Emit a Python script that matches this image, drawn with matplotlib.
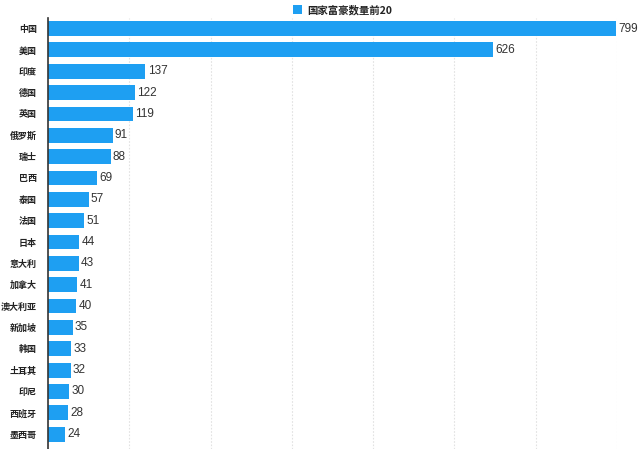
import matplotlib
matplotlib.use('Agg')
import matplotlib.pyplot as plt
import numpy as np

# data
countries = ['中国', '美国', '印度', '德国', '英国', '俄罗斯', '瑞士', '巴西', '泰国', '法国',
             '日本', '意大利', '加拿大', '澳大利亚', '新加坡', '韩国', '土耳其', '印尼', '西班牙', '墨西哥']
counts = [799, 626, 137, 122, 119, 91, 88, 69, 57, 51,
          44, 43, 41, 40, 35, 33, 32, 30, 28, 24]
series_name = '国家富豪数量前20'

plt.rcParams['font.family'] = ['Noto Sans CJK SC', 'DejaVu Sans']

bar_color = '#1E9FF2'

fig = plt.figure(figsize=(6.4, 4.49), dpi=100)
ax = fig.add_axes([0.075, 0.0, 0.889, 0.960])

y = np.arange(len(countries))
bars = ax.barh(y, counts, height=0.7, color=bar_color, label=series_name, zorder=3)

# value labels at the end of each bar
for yi, v in zip(y, counts):
    ax.text(v + 3, yi, str(v), va='center', ha='left', fontsize=8.5,
            color='#333333', family=['Liberation Sans', 'DejaVu Sans'])

ax.set_yticks(y)
ax.set_yticklabels(countries, fontsize=6.5, fontweight='bold', color='#222222')
ax.tick_params(axis='y', length=0, pad=8)

ax.set_xlim(0, 800)
ax.set_ylim(19.7, -0.5)
ax.set_xticks(np.linspace(0, 800, 8))
ax.tick_params(axis='x', length=0, labelbottom=False)
ax.grid(axis='x', ls=(0, (1.5, 1.5)), color='#e2e2e2', lw=0.8, zorder=0)

for s in ['top', 'right', 'bottom']:
    ax.spines[s].set_visible(False)
ax.spines['left'].set_color('#333333')
ax.spines['left'].set_linewidth(1.2)
ax.spines['left'].set_zorder(4)

leg = fig.legend(loc='upper center', bbox_to_anchor=(0.535, 1.01), frameon=False,
                 fontsize=7.5, handlelength=0.9, handleheight=0.9, handletextpad=0.5)
for t in leg.get_texts():
    t.set_fontweight('bold')
    t.set_color('#222222')

fig.savefig('out.png', dpi=100)
